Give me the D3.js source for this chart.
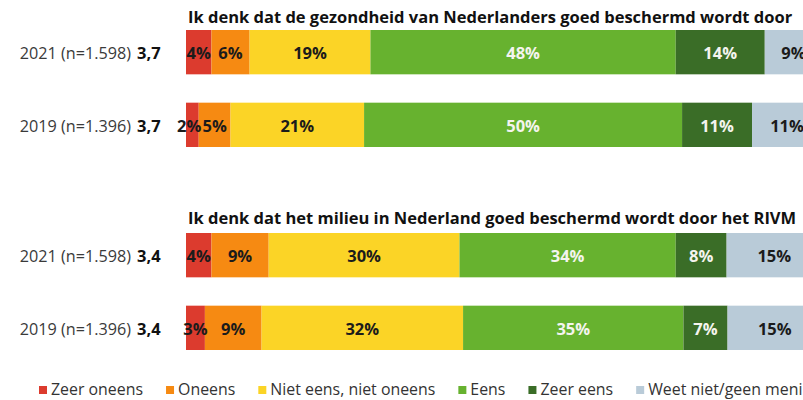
<!DOCTYPE html>
<html><head><meta charset="utf-8">
<script src="https://cdn.jsdelivr.net/npm/d3@7"></script>
<style>
html,body{margin:0;padding:0;background:#fff;}
svg{display:block;font-family:"Open Sans",sans-serif;}
</style></head>
<body><svg id="c" width="803" height="400"></svg>
<script>
const categories = ["Zeer oneens","Oneens","Niet eens, niet oneens","Eens","Zeer eens","Weet niet/geen mening"];
const colors = ["#dc3b2e","#f68a12","#fbd426","#67b22f","#3a6d27","#b9cbd8"];
const labelColors = ["#1b1b1b","#1b1b1b","#1b1b1b","#f4f4ee","#f4f4ee","#1b1b1b"];
const titles = ["Ik denk dat de gezondheid van Nederlanders goed beschermd wordt door",
                "Ik denk dat het milieu in Nederland goed beschermd wordt door het RIVM"];
const rowLabels = [["2021 (n=1.598)","2019 (n=1.396)"],["2021 (n=1.598)","2019 (n=1.396)"]];
const means = [["3,7","3,7"],["3,4","3,4"]];
const gezondheid2021 = [4,6,19,48,14,9];
const gezondheid2019 = [2,5,21,50,11,11];
const milieu2021 = [4,9,30,34,8,15];
const milieu2019 = [3,9,32,35,7,15];
const groups = [[gezondheid2021,gezondheid2019],[milieu2021,milieu2019]];

const svg = d3.select("#c");
const x = d3.scaleLinear().domain([0,1]).range([186,822]);
const groupTop = [30,233];
const titleY = [23,224];

groups.forEach((rows,gi)=>{
  const y = d3.scaleBand().domain([0,1]).range([groupTop[gi], groupTop[gi]+117]).paddingInner(0.39).paddingOuter(0);
  svg.append("text").attr("x",188).attr("y",titleY[gi])
    .attr("font-weight",700).attr("font-size",16.5).attr("fill","#111")
    .text(titles[gi]);
  rows.forEach((vals,ri)=>{
    const total = d3.sum(vals);
    let cum = 0;
    const segs = vals.map((v,i)=>{const s={i,v,x0:cum/total,x1:(cum+v)/total}; cum+=v; return s;});
    const g = svg.append("g");
    const yy = y(ri), h = y.bandwidth();
    g.selectAll("rect").data(segs).join("rect")
      .attr("x",d=>x(d.x0)).attr("width",d=>x(d.x1)-x(d.x0))
      .attr("y",yy).attr("height",h).attr("fill",d=>colors[d.i]);
    const labs = g.selectAll("text.v").data(segs).join("text").attr("class","v")
      .attr("x",d=>(x(d.x0)+x(d.x1))/2).attr("y",yy+h/2+7)
      .attr("text-anchor","middle").attr("font-weight",700).attr("font-size",16.5)
      .attr("fill",d=>labelColors[d.i]).text(d=>d.v+"%");
    // resolve overlaps by shifting left
    const nodes = labs.nodes();
    for(let k=nodes.length-2;k>=0;k--){
      const a=nodes[k], b=nodes[k+1];
      const ab=a.getBBox(), bb=b.getBBox();
      if(ab.x+ab.width+1 > bb.x){
        const shift = ab.x+ab.width+1-bb.x;
        d3.select(a).attr("x", +a.getAttribute("x")-shift);
      }
    }
    svg.append("text").attr("x",131).attr("y",yy+h/2+7).attr("text-anchor","end")
      .attr("font-size",16.2).attr("fill","#3a3a3a").text(rowLabels[gi][ri]);
    svg.append("text").attr("x",137).attr("y",yy+h/2+7)
      .attr("font-size",16.5).attr("font-weight",700).attr("fill","#111").text(means[gi][ri]);
  });
});

// legend
const leg = svg.append("g");
let lx = 39;
categories.forEach((c,i)=>{
  const it = leg.append("g").attr("transform",`translate(${lx},0)`);
  it.append("rect").attr("x",0).attr("y",386).attr("width",8).attr("height",8).attr("fill",colors[i]);
  const t = it.append("text").attr("x",12).attr("y",395).attr("font-size",15.9).attr("fill","#333").text(c);
  lx += 12 + t.node().getComputedTextLength() + 23;
});
</script></body></html>
